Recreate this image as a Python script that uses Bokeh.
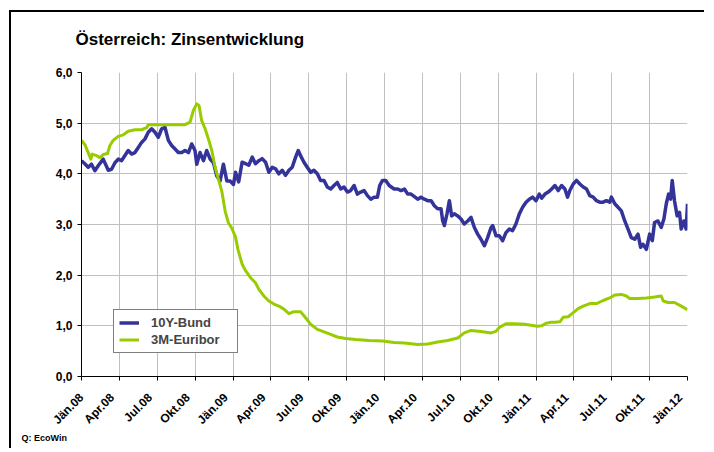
from math import pi
from bokeh.plotting import figure
from bokeh.models import FixedTicker, Legend, LegendItem, Title, LinearAxis
from bokeh.embed import file_html
from bokeh.resources import INLINE

FONT = "Liberation Sans"

# months since January 2008
x_tick_labels = ["Jän.08", "Apr.08", "Jul.08", "Okt.08", "Jän.09", "Apr.09", "Jul.09", "Okt.09",
                 "Jän.10", "Apr.10", "Jul.10", "Okt.10", "Jän.11", "Apr.11", "Jul.11", "Okt.11", "Jän.12"]
y_tick_labels = ["0,0", "1,0", "2,0", "3,0", "4,0", "5,0", "6,0"]

bund_m = [0.0,0.26,0.53,0.79,1.06,1.32,1.72,1.85,2.12,2.38,
          2.65,2.91,3.17,3.44,3.70,3.97,4.23,4.50,4.76,5.03,
          5.29,5.56,5.82,6.08,6.35,6.61,6.88,7.14,7.41,7.67,
          7.94,8.20,8.47,8.73,8.99,9.13,9.39,9.66,9.92,10.19,
          10.45,10.71,10.98,11.24,11.51,11.77,12.04,12.20,12.45,12.72,
          12.99,13.25,13.52,13.78,14.05,14.31,14.58,14.84,15.11,15.37,
          15.63,15.90,16.16,16.43,16.69,16.96,17.17,17.35,17.62,17.88,
          18.15,18.41,18.68,18.94,19.21,19.47,19.74,20.00,20.26,20.53,
          20.79,21.06,21.32,21.59,21.85,22.12,22.38,22.65,22.91,23.17,
          23.44,23.62,23.84,24.10,24.37,24.76,25.05,25.31,25.58,25.84,
          26.10,26.37,26.63,26.89,27.16,27.42,27.69,27.95,28.21,28.48,
          28.61,28.74,28.95,29.14,29.32,29.53,29.80,30.06,30.32,30.59,
          30.85,31.12,31.38,31.64,31.91,32.17,32.44,32.57,32.83,33.09,
          33.36,33.62,33.89,34.15,34.41,34.68,34.94,35.21,35.47,35.73,
          36.00,36.26,36.45,36.71,36.97,37.24,37.50,37.76,38.03,38.29,
          38.50,38.68,38.95,39.21,39.47,39.74,40.00,40.26,40.53,40.79,
          41.05,41.32,41.58,41.84,41.97,42.24,42.50,42.76,43.03,43.29,
          43.55,43.82,44.08,44.29,44.47,44.74,45.00,45.21,45.39,45.66,
          45.92,46.13,46.32,46.50,46.66,46.79,46.97,47.18,47.37,47.50,
          47.71,47.89,48.00]
bund_v = [4.26,4.20,4.13,4.19,4.06,4.16,4.29,4.22,4.07,4.09,
          4.22,4.29,4.26,4.36,4.46,4.39,4.42,4.52,4.62,4.69,
          4.82,4.89,4.82,4.72,4.89,4.92,4.66,4.56,4.49,4.42,
          4.42,4.46,4.42,4.59,4.46,4.19,4.42,4.26,4.46,4.29,
          4.22,3.96,3.86,4.19,3.86,3.86,3.79,4.03,3.84,4.23,
          4.20,4.17,4.33,4.20,4.26,4.30,4.23,4.03,4.13,4.10,
          4.00,4.07,3.97,4.07,4.13,4.33,4.46,4.36,4.23,4.13,
          4.03,4.07,4.00,3.87,3.87,3.74,3.70,3.77,3.83,3.70,
          3.74,3.64,3.67,3.77,3.60,3.64,3.67,3.57,3.50,3.54,
          3.54,3.77,3.87,3.87,3.77,3.70,3.70,3.67,3.70,3.60,
          3.60,3.55,3.50,3.54,3.50,3.47,3.47,3.37,3.31,3.31,
          3.07,2.98,3.21,3.47,3.17,3.21,3.17,3.11,3.01,3.07,
          3.14,2.94,2.81,2.71,2.58,2.74,2.94,2.98,2.78,2.78,
          2.68,2.84,2.91,2.88,3.01,3.21,3.34,3.44,3.50,3.54,
          3.47,3.60,3.52,3.60,3.64,3.70,3.77,3.67,3.77,3.70,
          3.54,3.67,3.80,3.87,3.80,3.74,3.70,3.57,3.54,3.47,
          3.44,3.44,3.47,3.44,3.54,3.41,3.34,3.27,3.07,2.91,
          2.74,2.71,2.81,2.55,2.61,2.51,2.81,2.68,3.04,3.07,
          2.94,3.11,3.41,3.60,3.50,3.87,3.47,3.17,3.24,2.91,
          3.07,2.91,3.41]

euribor_m = [0.0,0.26,0.53,0.74,0.85,1.19,1.46,1.72,2.06,2.25,
             2.51,2.91,3.31,3.70,4.23,4.76,5.16,5.29,6.08,7.14,
             8.20,8.60,8.86,9.13,9.31,9.52,9.79,10.05,10.32,10.58,
             10.85,11.11,11.38,11.64,11.90,12.20,12.40,12.72,12.99,13.39,
             13.78,14.05,14.44,14.84,15.24,15.63,16.03,16.43,16.83,17.35,
             17.75,18.15,18.68,19.21,19.74,20.26,20.93,21.72,22.78,23.84,
             24.76,25.58,26.63,27.42,28.21,29.00,29.80,30.32,30.85,31.64,
             32.44,32.83,33.09,33.62,34.28,35.07,36.13,36.45,36.80,37.20,
             37.50,37.89,38.16,38.55,38.95,39.34,39.74,40.26,40.79,41.32,
             41.84,42.24,42.76,43.16,43.42,44.08,44.74,45.39,45.92,46.08,
             46.45,46.97,47.50,48.00]
euribor_v = [4.66,4.58,4.42,4.29,4.39,4.36,4.32,4.38,4.40,4.56,
             4.66,4.74,4.77,4.84,4.87,4.87,4.91,4.97,4.97,4.97,
             4.97,5.02,5.25,5.38,5.35,5.05,4.89,4.69,4.46,4.13,
             3.89,3.66,3.26,3.03,2.93,2.75,2.50,2.22,2.09,1.95,
             1.85,1.72,1.59,1.49,1.43,1.39,1.33,1.24,1.28,1.28,
             1.16,1.03,0.93,0.88,0.83,0.78,0.75,0.73,0.71,0.70,
             0.67,0.66,0.63,0.64,0.68,0.71,0.76,0.86,0.91,0.89,
             0.86,0.89,0.97,1.04,1.04,1.03,0.99,1.00,1.05,1.07,
             1.07,1.08,1.17,1.18,1.26,1.34,1.39,1.44,1.44,1.50,
             1.55,1.61,1.62,1.59,1.54,1.54,1.55,1.57,1.59,1.49,
             1.46,1.46,1.39,1.32]

x_ticks = [3 * i for i in range(len(x_tick_labels))]
y_ticks = list(range(len(y_tick_labels)))
# rotated labels sit slightly left of their tick (layout offset, in months; clamped to the frame)
LABEL_SHIFT = 0.57
x_label_pos = [max(0.0, round(t - LABEL_SHIFT, 2)) for t in x_ticks]

p = figure(width=695, height=438, x_range=(0, 48), y_range=(0, 6),
           output_backend="svg", toolbar_location=None,
           min_border_left=70, min_border_right=19, min_border_top=60, min_border_bottom=74)
p.styles = {"border-left": "2px solid black", "border-top": "2px solid black",
            "margin-left": "9px", "margin-top": "10px"}
p.outline_line_color = None
p.background_fill_color = "white"
p.border_fill_color = "white"

# second (blank) line lifts the title away from the frame
p.title.text = "Österreich: Zinsentwicklung\n "
p.title.text_font = FONT
p.title.text_font_size = "17px"
p.title.text_font_style = "bold"
p.title.text_color = "black"
p.title.align = "left"
p.title.offset = -6
p.title.standoff = 9

xt = FixedTicker(ticks=x_ticks)
yt = FixedTicker(ticks=y_ticks)
p.xaxis.ticker = xt
p.yaxis.ticker = yt
p.xgrid.ticker = xt
p.ygrid.ticker = yt
p.yaxis.major_label_overrides = {t: l for t, l in zip(y_ticks, y_tick_labels)}

for ax in (p.xaxis, p.yaxis):
    ax.axis_line_color = "black"
    ax.axis_line_width = 1
    ax.major_tick_line_color = "black"
    ax.major_tick_in = 0
    ax.major_tick_out = 4
    ax.minor_tick_line_color = None
    ax.major_label_text_font = FONT
    ax.major_label_text_font_size = "12px"
    ax.major_label_text_font_style = "bold"
    ax.major_label_text_color = "black"
p.yaxis.major_label_standoff = 5
# primary x axis: line and tick marks only
p.xaxis.major_label_text_font_size = "0px"
p.xaxis.major_label_standoff = 0
p.xaxis.major_label_overrides = {t: "" for t in x_ticks}

# label-only axis for the rotated month labels
lab_axis = LinearAxis(ticker=FixedTicker(ticks=x_label_pos),
                      major_label_overrides={t: l for t, l in zip(x_label_pos, x_tick_labels)},
                      major_label_orientation=pi / 4,
                      axis_line_color=None, major_tick_line_color=None,
                      minor_tick_line_color=None, major_tick_in=0, major_tick_out=0,
                      major_label_standoff=15,
                      major_label_text_font=FONT, major_label_text_font_size="12px",
                      major_label_text_font_style="bold", major_label_text_color="black")
p.add_layout(lab_axis, "below")

for g in (p.xgrid, p.ygrid):
    g.grid_line_color = "#c0c0c0"
    g.grid_line_width = 1

r_bund = p.line(bund_m, bund_v, line_color="#333399", line_width=3.5, line_join="round")
r_eur = p.line(euribor_m, euribor_v, line_color="#99CC00", line_width=3, line_join="round")

legend = Legend(items=[LegendItem(label="10Y-Bund", renderers=[r_bund]),
                       LegendItem(label="3M-Euribor", renderers=[r_eur])],
                location=(32, 23), orientation="vertical",
                border_line_color="black", border_line_width=1,
                background_fill_color="white", background_fill_alpha=1,
                label_text_font=FONT, label_text_font_size="13px", label_text_font_style="bold",
                glyph_width=20, glyph_height=15, label_height=15, label_standoff=12,
                label_width=81, padding=5, spacing=2, margin=0)
p.add_layout(legend)

src = Title(text="Q: EcoWin", align="left", offset=-60, standoff=-8,
            text_font=FONT, text_font_size="9px", text_font_style="bold", text_color="black")
p.add_layout(src, "below")

open("out.html", "w").write(file_html(p, INLINE))
